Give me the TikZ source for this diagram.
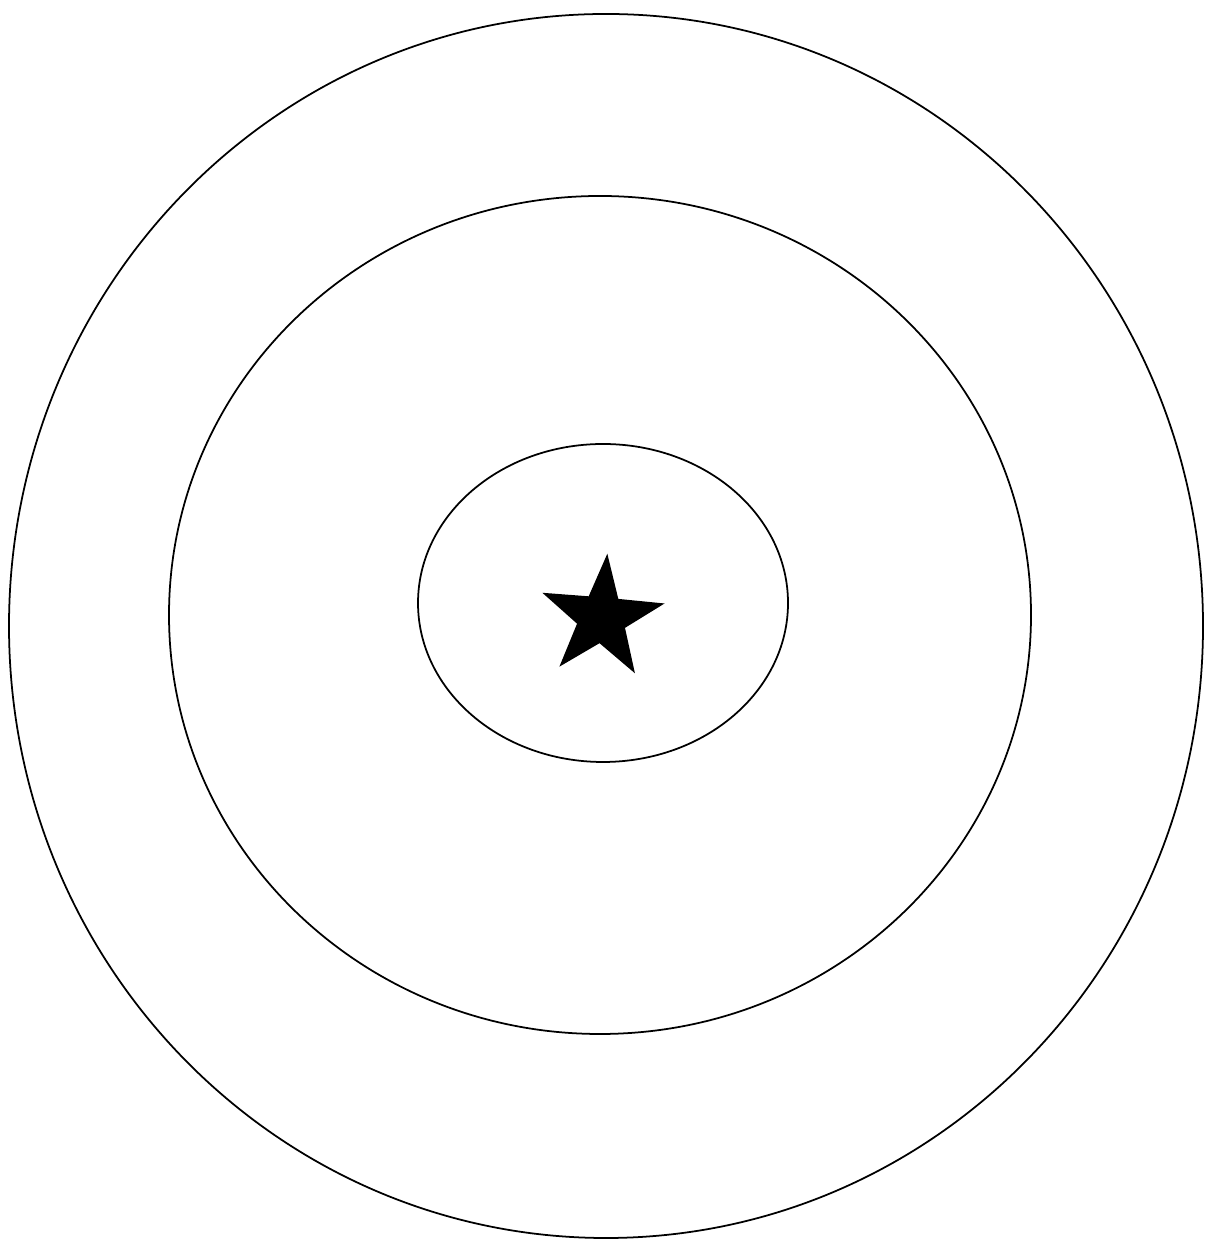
\documentclass[tikz,border=0pt]{standalone}
\usepackage{tikz}
\usetikzlibrary{positioning,shapes.geometric}
\tikzset{ring/.style={ellipse,draw=black,line width=0.5pt,inner sep=0pt,outer sep=0pt}}

\begin{document}
\begin{tikzpicture}
  \useasboundingbox (0,0) rectangle (12.09,12.39);
  % three rings round the star
  \node[ring,minimum width=11.94cm,minimum height=12.24cm] (outer) at (6.06,6.13) {};
  \node[ring,minimum width=8.62cm,minimum height=8.38cm] (middle) at (6.00,6.24) {};
  \node[ring,minimum width=3.70cm,minimum height=3.18cm] (inner) at (6.03,6.36) {};
  \node[star,star points=5,star point ratio=2.55,minimum size=1.29cm,
        inner sep=0pt,fill=black,rotate=-5] (mark) at (6.017,6.21) {};
\end{tikzpicture}
\end{document}
